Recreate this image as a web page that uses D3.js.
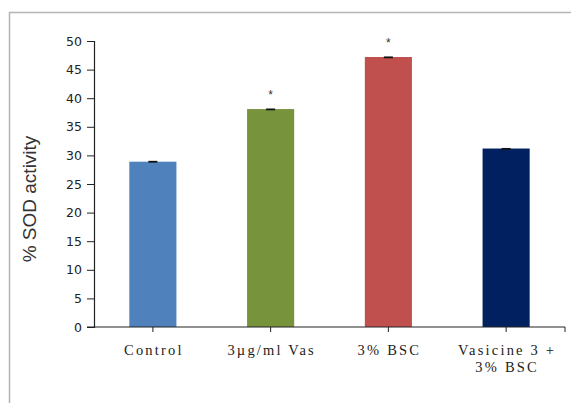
<!DOCTYPE html>
<html>
<head>
<meta charset="utf-8">
<script src="https://cdn.jsdelivr.net/npm/d3@7"></script>
<style>
  html, body { margin: 0; padding: 0; background: #fff; }
  svg { display: block; }
</style>
</head>
<body>
<svg id="chart" width="571" height="403"></svg>
<script>
// Treatment groups (label lines) and their SOD activity
const categories = ["Control", "3µg/ml Vas", "3% BSC", "Vasicine 3 + 3% BSC"];
const categoryLines = [["Control"], ["3µg/ml Vas"], ["3% BSC"], ["Vasicine 3 +", "3% BSC"]];
const sodValues = [28.9, 38.1, 47.2, 31.2];
const sodErrors = [0.15, 0.1, 0.1, 0.1];
const significant = [false, true, true, false];
const barColors = ["#4F81BD", "#77933C", "#C0504D", "#002060"];
const yTicks = [0, 5, 10, 15, 20, 25, 30, 35, 40, 45, 50];

const svg = d3.select("#chart");

// Outer chart frame (top and left edges visible)
svg.append("path")
  .attr("d", "M9.5,403 L9.5,12.5 L571,12.5")
  .attr("fill", "none")
  .attr("stroke", "#b4b4b4")
  .attr("stroke-width", 1.5);

const plot = { left: 94, right: 565, top: 41, bottom: 327 };

const x = d3.scaleBand()
  .domain(categories)
  .range([plot.left, plot.right])
  .padding(0);

const y = d3.scaleLinear()
  .domain([0, 50])
  .range([plot.bottom, plot.top]);

const barW = x.bandwidth() * 0.4;

// Bars
svg.selectAll("rect.bar")
  .data(categories)
  .join("rect")
  .attr("class", "bar")
  .attr("x", d => x(d) + (x.bandwidth() - barW) / 2)
  .attr("y", (d, i) => y(sodValues[i]))
  .attr("width", barW)
  .attr("height", (d, i) => y(0) - y(sodValues[i]))
  .attr("fill", (d, i) => barColors[i]);

// Error bars
const errG = svg.append("g");
categories.forEach((c, i) => {
  const cx = x(c) + x.bandwidth() / 2;
  const lo = y(sodValues[i] - sodErrors[i]);
  const hi = y(sodValues[i] + sodErrors[i]);
  errG.append("rect")
    .attr("x", cx - 4.5)
    .attr("y", hi)
    .attr("width", 9)
    .attr("height", Math.max(1.8, lo - hi))
    .attr("fill", "#111");
});

// Significance asterisks
svg.selectAll("text.sig")
  .data(categories.filter((c, i) => significant[i]))
  .join("text")
  .attr("class", "sig")
  .attr("x", d => x(d) + x.bandwidth() / 2)
  .attr("y", d => y(sodValues[categories.indexOf(d)]) - 10)
  .attr("text-anchor", "middle")
  .attr("font-family", "Liberation Sans, Arial, sans-serif")
  .attr("font-size", 12)
  .attr("fill", "#333")
  .text("*");

// Y axis
const yAxis = d3.axisLeft(y)
  .tickValues(yTicks)
  .tickSize(7)
  .tickPadding(5);
const yg = svg.append("g")
  .attr("transform", `translate(${plot.left},0)`)
  .call(yAxis);
yg.select(".domain").attr("stroke", "#222").attr("stroke-width", 1.2);
yg.selectAll(".tick line").attr("stroke", "#222");
yg.selectAll(".tick text")
  .attr("font-family", "DejaVu Sans, Verdana, sans-serif")
  .attr("font-size", 12.5)
  .attr("fill", "#222");

// X axis line with ticks at category centres and at the end
svg.append("line")
  .attr("x1", plot.left - 7).attr("x2", plot.right)
  .attr("y1", plot.bottom).attr("y2", plot.bottom)
  .attr("stroke", "#222").attr("stroke-width", 1.2);
const xTickPos = categories.map(c => x(c) + x.bandwidth() / 2).concat([plot.right]);
svg.selectAll("line.xtick")
  .data(xTickPos)
  .join("line")
  .attr("class", "xtick")
  .attr("x1", d => d).attr("x2", d => d)
  .attr("y1", plot.bottom).attr("y2", plot.bottom + 5)
  .attr("stroke", "#222");

// Category labels
categories.forEach((c, i) => {
  const cx = x(c) + x.bandwidth() / 2 + 1;
  const t = svg.append("text")
    .attr("x", cx)
    .attr("y", 355)
    .attr("text-anchor", "middle")
    .attr("font-family", "Liberation Serif, Times New Roman, serif")
    .attr("font-size", 14.5)
    .attr("letter-spacing", "2.2px")
    .attr("fill", "#222");
  categoryLines[i].forEach((ln, k) => {
    t.append("tspan")
      .attr("x", cx)
      .attr("dy", k === 0 ? 0 : 17)
      .text(ln);
  });
});

// Y axis title
svg.append("text")
  .attr("transform", "translate(36,199) rotate(-90)")
  .attr("text-anchor", "middle")
  .attr("font-family", "Liberation Sans, Arial, sans-serif")
  .attr("font-size", 19)
  .attr("fill", "#333")
  .text("% SOD activity");
</script>
</body>
</html>
